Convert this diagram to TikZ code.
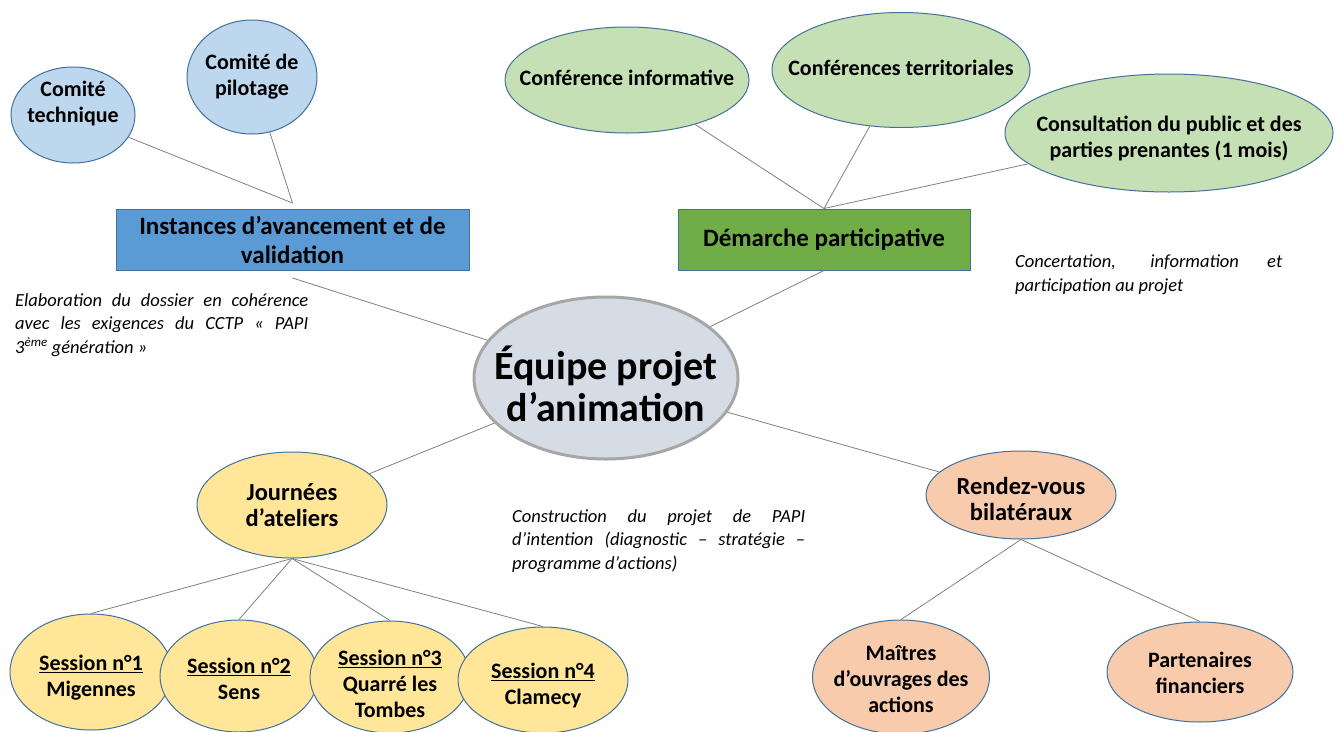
\documentclass[tikz,border=0pt]{standalone}
\usepackage{fontspec}
\setmainfont{Carlito}
\usepackage{tikz}
\usetikzlibrary{shapes.geometric}

\definecolor{bleuclair}{HTML}{BDD7EE}
\definecolor{bleufonce}{HTML}{5B9BD5}
\definecolor{vertclair}{HTML}{C5E0B4}
\definecolor{vertfonce}{HTML}{70AD47}
\definecolor{jaune}{HTML}{FFE699}
\definecolor{orange}{HTML}{F8CBAD}
\definecolor{grisbleu}{HTML}{D6DCE5}
\definecolor{bordure}{HTML}{41719C}
\definecolor{trait}{HTML}{808080}

\hyphenpenalty=10000
\exhyphenpenalty=10000

% texte centre dans une bulle, sans agrandir l'ellipse (decalage vertical en option)
\newcommand{\etiq}[2][0pt]{\makebox[0pt]{\raisebox{#1}[\height][\depth]{\begin{tabular}{@{}c@{}}#2\end{tabular}}}}

\tikzset{
	bulle/.style={ellipse, draw=bordure, line width=1pt, inner sep=0pt, font=\bfseries\fontsize{22}{26}\selectfont},
	grande/.style={font=\bfseries\fontsize{24.5}{26}\selectfont},
	bleu/.style={bulle, fill=bleuclair},
	vert/.style={bulle, fill=vertclair},
	jaunebulle/.style={bulle, fill=jaune},
	orangebulle/.style={bulle, fill=orange},
	cadre/.style={rectangle, draw=bordure, line width=1pt, inner sep=0pt, align=center, font=\bfseries\fontsize{25}{29}\selectfont},
	centre/.style={ellipse, draw=black!35, line width=3pt, fill=grisbleu, inner sep=0pt, font=\bfseries\fontsize{40}{42}\selectfont},
	lien/.style={draw=trait, line width=0.8pt},
	note/.style={inner sep=0pt, anchor=north west, align=justify, font=\itshape\fontsize{18.5}{23.5}\selectfont}
}

\begin{document}
\begin{tikzpicture}[x=1pt, y=-1pt]
			%%%%% START %%%%%
			
			\useasboundingbox (0, 0) rectangle (1338, 731);
			\fill[white] (0, 0) rectangle (1338, 731);
			
			\node[bleu, minimum width=124pt, minimum height=96pt] (ctech) at (73, 115) {\etiq[11pt]{Comité\\technique}};
			\node[bleu, minimum width=130pt, minimum height=114pt] (copil) at (252, 77) {\etiq{Comité de\\pilotage}};
			\node[cadre, fill=bleufonce, minimum width=353pt, minimum height=61pt] (instances) at (292.5, 240) {Instances d’avancement et de\\validation};
			\coordinate (insthaut) at ([yshift=6pt]instances.north);
			\coordinate (instbas) at ([yshift=-7pt]instances.south);
			
			\node[vert, minimum width=244pt, minimum height=106pt] (cinfo) at (627, 80) {\etiq{Conférence informative}};
			\node[vert, minimum width=258pt, minimum height=115pt] (cterr) at (901, 70) {\etiq{Conférences territoriales}};
			\node[vert, minimum width=328pt, minimum height=118pt] (consult) at (1169, 133) {\etiq[-6pt]{Consultation du public et des\\parties prenantes (1 mois)}};
			\node[cadre, fill=vertfonce, minimum width=292pt, minimum height=61pt] (demarche) at (824, 239.5) {Démarche participative};
			
			\node[centre, minimum width=264pt, minimum height=162pt] (equipe) at (606, 378) {\etiq[-12pt]{Équipe projet\\d’animation}};
			
			\node[jaunebulle, grande, minimum width=190pt, minimum height=106pt] (journees) at (292, 505) {\etiq[-3pt]{Journées\\d’ateliers}};
			\node[jaunebulle, minimum width=162pt, minimum height=116pt] (s1) at (91, 672) {\etiq[-6pt]{\underline{Session n°1}\\Migennes}};
			\node[jaunebulle, minimum width=158pt, minimum height=112pt] (s2) at (239, 676) {\etiq[-5pt]{\underline{Session n°2}\\Sens}};
			\node[jaunebulle, minimum width=160pt, minimum height=112pt] (s3) at (390, 677) {\etiq[-9pt]{\underline{Session n°3}\\Quarré les\\Tombes}};
			\node[jaunebulle, minimum width=170pt, minimum height=106pt] (s4) at (543, 680) {\etiq[-6pt]{\underline{Session n°4}\\Clamecy}};
			
			\node[orangebulle, grande, minimum width=190pt, minimum height=88pt] (rdv) at (1021, 495) {\etiq[-7pt]{Rendez-vous\\bilatéraux}};
			\node[orangebulle, minimum width=177pt, minimum height=114pt] (maitres) at (901, 677) {\etiq[-4pt]{Maîtres\\d’ouvrages des\\actions}};
			\node[orangebulle, minimum width=186pt, minimum height=100pt] (partenaires) at (1200, 672) {\etiq[-3pt]{Partenaires\\financiers}};
			
			\draw[lien] (ctech) -- (insthaut);
			\draw[lien] (copil) -- (insthaut);
			\draw[lien] (instbas) -- (equipe);
			
			\draw[lien] (cinfo) -- (demarche.north);
			\draw[lien] (cterr) -- (demarche.north);
			\draw[lien] (consult) -- (demarche.north);
			\draw[lien] (demarche.south) -- (equipe);
			
			\draw[lien] (equipe) -- (journees);
			\draw[lien] (journees.south) -- (s1.north);
			\draw[lien] (journees.south) -- (s2.north);
			\draw[lien] (journees.south) -- (s3.north);
			\draw[lien] (journees.south) -- (s4.north);
			
			\draw[lien] (equipe) -- (rdv);
			\draw[lien] (rdv.south) -- (maitres.north);
			\draw[lien] (rdv.south) -- (partenaires.north);
			
			\node[note, text width=293pt] (noteinst) at (15, 293) {Elaboration du dossier en cohérence\linebreak avec les exigences du CCTP « PAPI\linebreak 3\textsuperscript{ème} génération »};
			\node[note, text width=267pt] (notedem) at (1015, 255) {Concertation, information et\linebreak participation au projet};
			\node[note, text width=293pt] (noteequipe) at (512, 509) {Construction du projet de PAPI\linebreak d’intention (diagnostic – stratégie –\linebreak programme d’actions)};
			
			%%%%% END %%%%%
\end{tikzpicture}
\end{document}
